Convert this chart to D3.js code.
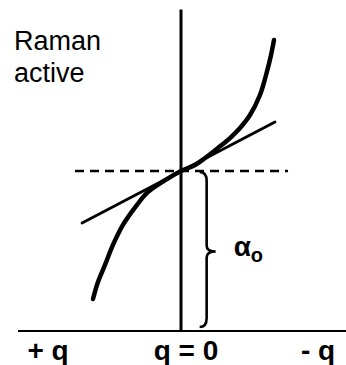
<!DOCTYPE html>
<html>
<head>
<meta charset="utf-8">
<script src="https://cdn.jsdelivr.net/npm/d3@7"></script>
<style>
  html, body { margin: 0; padding: 0; background: #fff; }
  svg { display: block; }
  text { font-family: "Liberation Sans", Arial, sans-serif; fill: #000; }
</style>
</head>
<body>
<script>
// Polarizability α as a function of the normal coordinate q (Raman active mode)
const curveQ     = [0.652, 0.615, 0.563, 0.504, 0.430, 0.326, 0.252, 0.126, 0, -0.104, -0.178, -0.274, -0.363, -0.437, -0.511, -0.585, -0.630, -0.667, -0.689];
const curveAlpha = [0.200, 0.306, 0.413, 0.538, 0.663, 0.788, 0.863, 0.938, 1, 1.038, 1.081, 1.144, 1.206, 1.269, 1.350, 1.475, 1.600, 1.725, 1.819];

// tangent at q = 0 (slope dα/dq ≠ 0)
const tangentQ     = [0.733, -0.696];
const tangentAlpha = [0.675, 1.306];

// reference level α0 and its extent
const alpha0 = 1;
const dashQ = [0.785, -0.793];

const axisLabels = ["+ q", "q = 0", "- q"];
const axisLabelQ = [1, 0, -1];

const W = 346, H = 365;
const svg = d3.select("body").append("svg").attr("width", W).attr("height", H);

// +q on the left, -q on the right
const x = d3.scaleLinear().domain([1, -1]).range([46, 316]);
const y = d3.scaleLinear().domain([0, 2]).range([331, 11]);

// baseline (α = 0)
svg.append("line")
  .attr("x1", 18).attr("x2", W)
  .attr("y1", y(0)).attr("y2", y(0))
  .attr("stroke", "#000").attr("stroke-width", 2);

// vertical axis at q = 0
svg.append("line")
  .attr("x1", x(0)).attr("x2", x(0))
  .attr("y1", y(2.01)).attr("y2", y(0))
  .attr("stroke", "#000").attr("stroke-width", 3);

// dashed α0 level
svg.append("line")
  .attr("x1", x(dashQ[0])).attr("x2", x(dashQ[1]))
  .attr("y1", y(alpha0)).attr("y2", y(alpha0))
  .attr("stroke", "#000").attr("stroke-width", 2.5)
  .attr("stroke-dasharray", "9,6");

// tangent line
svg.append("line")
  .attr("x1", x(tangentQ[0])).attr("y1", y(tangentAlpha[0]))
  .attr("x2", x(tangentQ[1])).attr("y2", y(tangentAlpha[1]))
  .attr("stroke", "#000").attr("stroke-width", 2.8)
  .attr("stroke-linecap", "round");

// α(q) curve
const pts = curveQ.map((q, i) => [q, curveAlpha[i]]);
svg.append("path")
  .datum(pts)
  .attr("d", d3.line().x(d => x(d[0])).y(d => y(d[1])).curve(d3.curveCatmullRom.alpha(0.5)))
  .attr("fill", "none")
  .attr("stroke", "#000").attr("stroke-width", 4.5)
  .attr("stroke-linecap", "round");

// curly brace spanning 0 → α0
const braceQ = -0.19;
const bx = x(braceQ), yTop = y(alpha0) + 1, yBot = y(0) - 4, yMid = (yTop + yBot) / 2 + 2;
const r = 9, tip = 9;
const bp = d3.path();
bp.moveTo(bx - 7, yTop);
bp.quadraticCurveTo(bx, yTop, bx, yTop + r);
bp.lineTo(bx, yMid - 6);
bp.quadraticCurveTo(bx, yMid, bx + tip, yMid);
bp.quadraticCurveTo(bx, yMid, bx, yMid + 6);
bp.lineTo(bx, yBot - r);
bp.quadraticCurveTo(bx, yBot, bx - 7, yBot);
svg.append("path")
  .attr("d", bp.toString())
  .attr("fill", "none")
  .attr("stroke", "#000").attr("stroke-width", 2.6);

// α0 label
const a0 = svg.append("text")
  .attr("x", bx + 27).attr("y", 256)
  .attr("font-size", 28).attr("font-weight", "bold");
a0.append("tspan").text("α");
a0.append("tspan").attr("font-size", 20).attr("dy", 6).text("o");

// Raman active title
const t = svg.append("text").attr("font-size", 27);
t.append("tspan").attr("x", 14).attr("y", 50).text("Raman");
t.append("tspan").attr("x", 14).attr("y", 82).text("active");

// q axis labels
svg.selectAll("text.ql")
  .data(axisLabels)
  .join("text")
  .attr("class", "ql")
  .attr("x", (d, i) => x(axisLabelQ[i]) + (i === 0 ? 2 : i === 2 ? 2 : 5))
  .attr("y", 360)
  .attr("text-anchor", "middle")
  .attr("font-size", 28)
  .attr("font-weight", "bold")
  .text(d => d);
</script>
</body>
</html>
